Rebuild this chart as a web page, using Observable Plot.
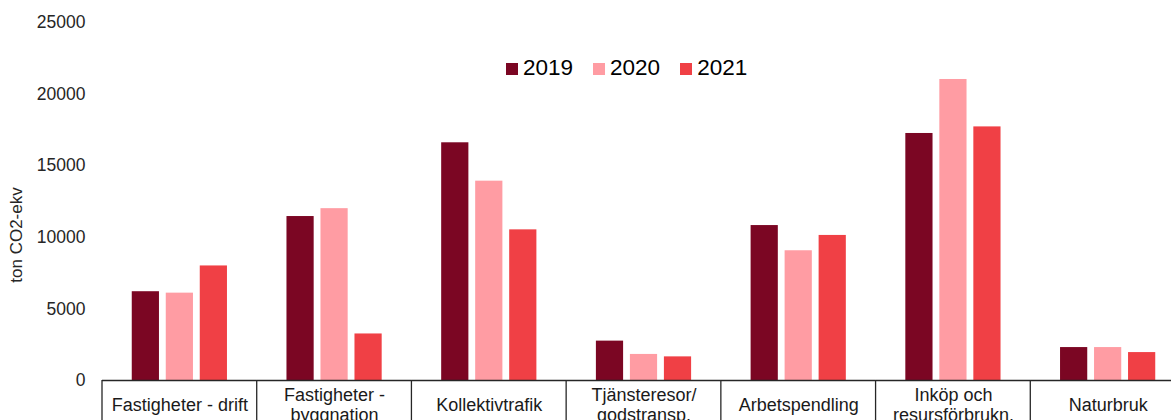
<!DOCTYPE html>
<html>
<head>
<meta charset="utf-8">
<script src="https://cdn.jsdelivr.net/npm/d3@7"></script>
<script src="https://cdn.jsdelivr.net/npm/@observablehq/plot@0.6"></script>
<style>
  html, body { margin: 0; padding: 0; overflow: hidden; background: #fff; }
  #wrap { position: relative; width: 1171px; height: 420px; overflow: hidden; font-family: "Liberation Sans", Arial, sans-serif; }
  #chart svg { max-width: none !important; height: 420px !important; width: 1185px !important; }
  #legend { position: absolute; left: 506px; top: 55px; display: flex; align-items: center; font-size: 22.5px; color: #000; }
  #legend .item { display: flex; align-items: center; margin-right: 20px; }
  #legend .sw { width: 12px; height: 12px; margin-right: 5px; margin-top: 2px; }
  #ylabel { position: absolute; left: 17px; top: 235px; transform: translate(-50%, -50%) rotate(-90deg); font-size: 17px; color: #262626; white-space: nowrap; }
</style>
</head>
<body>
<div id="wrap">
  <div id="chart"></div>
  <div id="ylabel">ton CO2-ekv</div>
  <div id="legend"></div>
</div>
<script>
const categories = ["Fastigheter - drift", "Fastigheter - byggnation", "Kollektivtrafik", "Tjänsteresor/ godstransp.", "Arbetspendling", "Inköp och resursförbrukn.", "Naturbruk"];
const tickLabels = ["Fastigheter - drift", "Fastigheter -\nbyggnation", "Kollektivtrafik", "Tjänsteresor/\ngodstransp.", "Arbetspendling", "Inköp och\nresursförbrukn.", "Naturbruk"];
const years = ["2019", "2020", "2021"];
const values2019 = [6200, 11450, 16600, 2750, 10820, 17250, 2300];
const values2020 = [6100, 12000, 13920, 1820, 9060, 21020, 2300];
const values2021 = [8000, 3250, 10520, 1650, 10130, 17710, 1950];
const yTicks = [0, 5000, 10000, 15000, 20000, 25000];
const colors = ["#7B0623", "#FF9CA3", "#F04045"];

const seriesByYear = {"2019": values2019, "2020": values2020, "2021": values2021};
const data = [];
categories.forEach((c, i) => {
  years.forEach(y => data.push({category: c, year: y, value: seriesByYear[y][i]}));
});
const labelOf = new Map(categories.map((c, i) => [c, tickLabels[i]]));

const plot = Plot.plot({
  width: 1185,
  height: 420,
  marginLeft: 102,
  marginRight: 0,
  marginTop: 22,
  marginBottom: 40,
  style: {fontFamily: "Liberation Sans, Arial, sans-serif", fontSize: "17px", color: "#262626", overflow: "visible"},
  fx: {domain: categories, padding: 0, round: false},
  x: {domain: years, paddingInner: 0.2, paddingOuter: 0.875, round: false, axis: null},
  y: {domain: [0, 25000]},
  color: {domain: years, range: colors},
  marks: [
    Plot.axisY({ticks: yTicks, tickSize: 0, tickPadding: 17, tickFormat: d => String(d), label: null, fontSize: 17.5}),
    Plot.axisFx({anchor: "bottom", tickSize: 0, tickPadding: 24, lineAnchor: "middle", lineHeight: 1.12, tickFormat: d => labelOf.get(d), label: null, fontSize: 18, fill: "#1a1a1a"}),
    Plot.barY(data, {fx: "category", x: "year", y: "value", fill: "year"}),
    Plot.ruleY([0], {stroke: "#262626", strokeWidth: 1.5})
  ]
});
plot.style.maxWidth = "none";
document.getElementById("chart").appendChild(plot);

// category separators from the fx band scale
const fx = plot.scale("fx");
const edges = categories.map(c => fx.apply(c));
edges.push(fx.apply(categories[categories.length - 1]) + fx.bandwidth);
d3.select(plot).append("g")
  .attr("stroke", "#262626").attr("stroke-width", 1.3)
  .selectAll("line").data(edges).join("line")
  .attr("x1", d => d).attr("x2", d => d)
  .attr("y1", 380).attr("y2", 430);

// legend
const leg = d3.select("#legend");
years.forEach((y, i) => {
  const it = leg.append("div").attr("class", "item");
  it.append("div").attr("class", "sw").style("background", colors[i]);
  it.append("span").text(y);
});
</script>
</body>
</html>
